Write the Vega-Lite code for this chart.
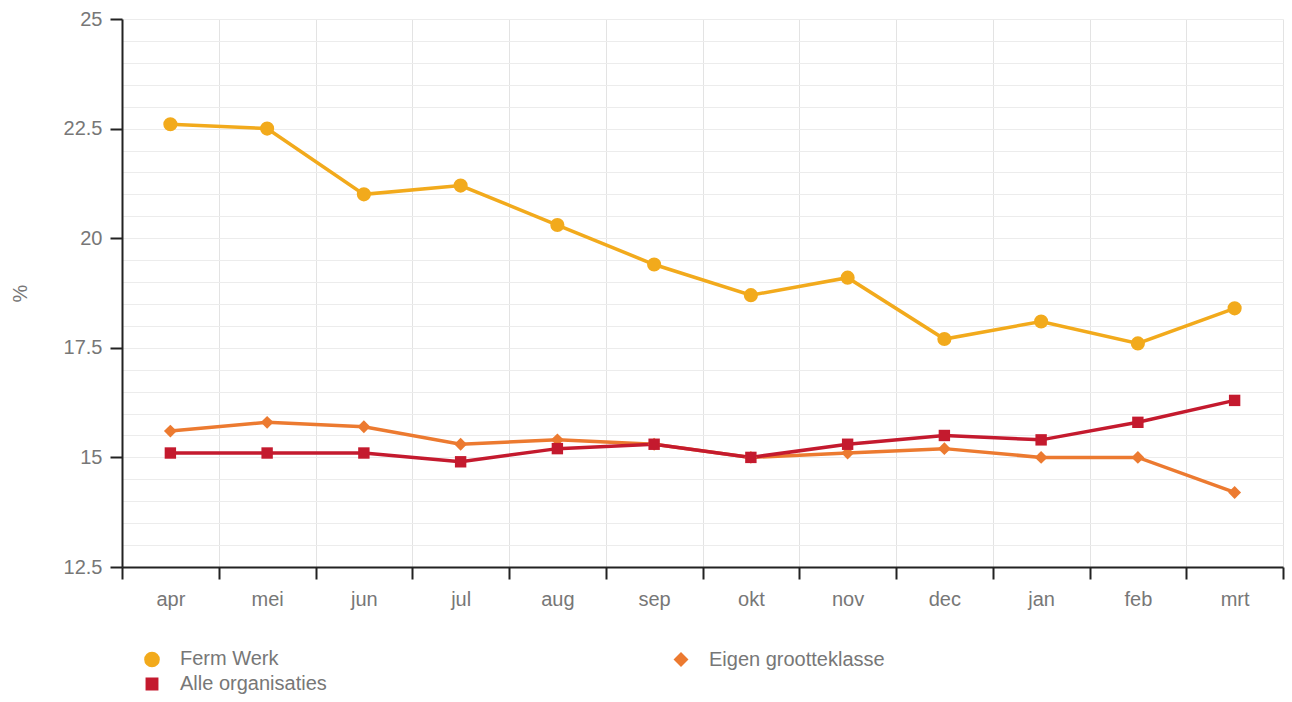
{
  "$schema": "https://vega.github.io/schema/vega-lite/v6.json",
  "width": 1161,
  "height": 548,
  "autosize": {"type": "none"},
  "padding": {"left": 122, "top": 19, "right": 9, "bottom": 135},
  "background": "white",
  "config": {
    "font": "Liberation Sans",
    "view": {"stroke": null}
  },
  "data": {
    "values": [
      {"maand": "apr", "reeks": "Ferm Werk", "pct": 22.6},
      {"maand": "mei", "reeks": "Ferm Werk", "pct": 22.5},
      {"maand": "jun", "reeks": "Ferm Werk", "pct": 21.0},
      {"maand": "jul", "reeks": "Ferm Werk", "pct": 21.2},
      {"maand": "aug", "reeks": "Ferm Werk", "pct": 20.3},
      {"maand": "sep", "reeks": "Ferm Werk", "pct": 19.4},
      {"maand": "okt", "reeks": "Ferm Werk", "pct": 18.7},
      {"maand": "nov", "reeks": "Ferm Werk", "pct": 19.1},
      {"maand": "dec", "reeks": "Ferm Werk", "pct": 17.7},
      {"maand": "jan", "reeks": "Ferm Werk", "pct": 18.1},
      {"maand": "feb", "reeks": "Ferm Werk", "pct": 17.6},
      {"maand": "mrt", "reeks": "Ferm Werk", "pct": 18.4},
      {"maand": "apr", "reeks": "Eigen grootteklasse", "pct": 15.6},
      {"maand": "mei", "reeks": "Eigen grootteklasse", "pct": 15.8},
      {"maand": "jun", "reeks": "Eigen grootteklasse", "pct": 15.7},
      {"maand": "jul", "reeks": "Eigen grootteklasse", "pct": 15.3},
      {"maand": "aug", "reeks": "Eigen grootteklasse", "pct": 15.4},
      {"maand": "sep", "reeks": "Eigen grootteklasse", "pct": 15.3},
      {"maand": "okt", "reeks": "Eigen grootteklasse", "pct": 15.0},
      {"maand": "nov", "reeks": "Eigen grootteklasse", "pct": 15.1},
      {"maand": "dec", "reeks": "Eigen grootteklasse", "pct": 15.2},
      {"maand": "jan", "reeks": "Eigen grootteklasse", "pct": 15.0},
      {"maand": "feb", "reeks": "Eigen grootteklasse", "pct": 15.0},
      {"maand": "mrt", "reeks": "Eigen grootteklasse", "pct": 14.2},
      {"maand": "apr", "reeks": "Alle organisaties", "pct": 15.1},
      {"maand": "mei", "reeks": "Alle organisaties", "pct": 15.1},
      {"maand": "jun", "reeks": "Alle organisaties", "pct": 15.1},
      {"maand": "jul", "reeks": "Alle organisaties", "pct": 14.9},
      {"maand": "aug", "reeks": "Alle organisaties", "pct": 15.2},
      {"maand": "sep", "reeks": "Alle organisaties", "pct": 15.3},
      {"maand": "okt", "reeks": "Alle organisaties", "pct": 15.0},
      {"maand": "nov", "reeks": "Alle organisaties", "pct": 15.3},
      {"maand": "dec", "reeks": "Alle organisaties", "pct": 15.5},
      {"maand": "jan", "reeks": "Alle organisaties", "pct": 15.4},
      {"maand": "feb", "reeks": "Alle organisaties", "pct": 15.8},
      {"maand": "mrt", "reeks": "Alle organisaties", "pct": 16.3}
    ]
  },
  "encoding": {
    "x": {
      "field": "maand",
      "type": "nominal",
      "sort": ["apr", "mei", "jun", "jul", "aug", "sep", "okt", "nov", "dec", "jan", "feb", "mrt"],
      "scale": {"paddingInner": 0, "paddingOuter": 0},
      "axis": {
        "title": null,
        "tickBand": "extent",
        "labelAngle": 0,
        "labelFontSize": 20,
        "labelColor": "#777777",
        "labelPadding": 10,
        "tickSize": 12,
        "tickWidth": 2,
        "tickColor": "#222222",
        "domainColor": "#222222",
        "domainWidth": 2,
        "grid": true,
        "gridColor": "#e3e3e3",
        "gridWidth": 1
      }
    },
    "y": {
      "field": "pct",
      "type": "quantitative",
      "scale": {"domain": [12.5, 25], "nice": false, "zero": false},
      "axis": {
        "title": "%",
        "titleFontSize": 20,
        "titleColor": "#777777",
        "titleFontWeight": "normal",
        "titlePadding": 33,
        "values": [12.5, 13, 13.5, 14, 14.5, 15, 15.5, 16, 16.5, 17, 17.5, 18, 18.5, 19, 19.5, 20, 20.5, 21, 21.5, 22, 22.5, 23, 23.5, 24, 24.5, 25],
        "labelExpr": "datum.value % 2.5 === 0 ? '' + datum.value : ''",
        "labelFontSize": 20,
        "labelColor": "#777777",
        "labelPadding": 8,
        "tickSize": 12,
        "tickWidth": 2,
        "tickColor": "#222222",
        "tickOpacity": {"condition": {"test": "datum.value % 2.5 === 0", "value": 1}, "value": 0},
        "domainColor": "#222222",
        "domainWidth": 2,
        "grid": true,
        "gridColor": "#ececec",
        "gridWidth": 1
      }
    },
    "color": {
      "field": "reeks",
      "type": "nominal",
      "scale": {
        "domain": ["Ferm Werk", "Eigen grootteklasse", "Alle organisaties"],
        "range": ["#F2AA1C", "#EC7A30", "#C41A2E"]
      },
      "legend": {
        "title": null,
        "orient": "none",
        "legendX": 20,
        "legendY": 630,
        "direction": "horizontal",
        "columns": 2,
        "columnPadding": 344,
        "rowPadding": 4,
        "labelFontSize": 20,
        "labelColor": "#777777",
        "labelOffset": 18,
        "symbolSize": 170,
        "labelLimit": 400
      }
    }
  },
  "layer": [
    {
      "mark": {"type": "line", "strokeWidth": 3.5}
    },
    {
      "mark": {"type": "point", "filled": true, "opacity": 1},
      "encoding": {
        "shape": {
          "field": "reeks",
          "type": "nominal",
          "scale": {
            "domain": ["Ferm Werk", "Eigen grootteklasse", "Alle organisaties"],
            "range": ["circle", "diamond", "square"]
          },
          "legend": {
            "title": null,
            "orient": "none",
            "legendX": 20,
            "legendY": 630,
            "direction": "horizontal",
            "columns": 2,
            "columnPadding": 344,
            "rowPadding": 4,
            "labelFontSize": 20,
            "labelColor": "#777777",
            "labelOffset": 18,
            "symbolSize": 170,
            "labelLimit": 400
          }
        },
        "size": {
          "field": "reeks",
          "type": "nominal",
          "scale": {
            "domain": ["Ferm Werk", "Eigen grootteklasse", "Alle organisaties"],
            "range": [200, 130, 280]
          },
          "legend": null
        }
      }
    }
  ]
}
